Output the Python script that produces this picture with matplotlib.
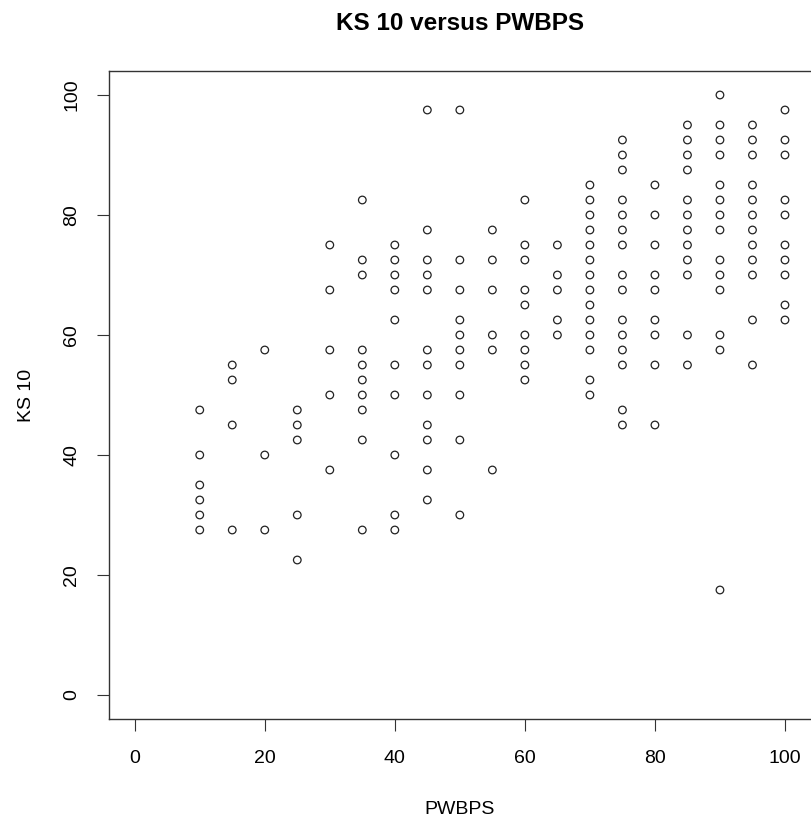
import numpy as np
import matplotlib
matplotlib.use('Agg')
import matplotlib.pyplot as plt

plt.rcParams['font.family'] = ['Liberation Sans', 'DejaVu Sans']

# PWBPS scores (x) and the KS 10 scores seen at each of them (y)
pwbps = [10, 15, 20, 25, 30, 35, 40, 45, 50, 55, 60, 65, 70, 75, 80, 85, 90, 95, 100]
ks10 = [
    [47.5, 40, 35, 32.5, 30, 27.5],
    [55, 52.5, 45, 27.5],
    [57.5, 40, 27.5],
    [47.5, 45, 42.5, 30, 22.5],
    [75, 67.5, 57.5, 50, 37.5],
    [82.5, 72.5, 70, 57.5, 55, 52.5, 50, 47.5, 42.5, 27.5],
    [75, 72.5, 70, 67.5, 62.5, 55, 50, 40, 30, 27.5],
    [97.5, 77.5, 72.5, 70, 67.5, 57.5, 55, 50, 45, 42.5, 37.5, 32.5],
    [97.5, 72.5, 67.5, 62.5, 60, 57.5, 55, 50, 42.5, 30],
    [77.5, 72.5, 67.5, 60, 57.5, 37.5],
    [82.5, 75, 72.5, 67.5, 65, 60, 57.5, 55, 52.5],
    [75, 70, 67.5, 62.5, 60],
    [85, 82.5, 80, 77.5, 75, 72.5, 70, 67.5, 65, 62.5, 60, 57.5, 52.5, 50],
    [92.5, 90, 87.5, 82.5, 80, 77.5, 75, 70, 67.5, 62.5, 60, 57.5, 55, 47.5, 45],
    [85, 80, 75, 70, 67.5, 62.5, 60, 55, 45],
    [95, 92.5, 90, 87.5, 82.5, 80, 77.5, 75, 72.5, 70, 60, 55],
    [100, 95, 92.5, 90, 85, 82.5, 80, 77.5, 72.5, 70, 67.5, 60, 57.5, 17.5],
    [95, 92.5, 90, 85, 82.5, 80, 77.5, 75, 72.5, 70, 62.5, 55],
    [97.5, 92.5, 90, 82.5, 80, 75, 72.5, 70, 65, 62.5],
]
ticks = [0, 20, 40, 60, 80, 100]

x = np.concatenate([[p] * len(v) for p, v in zip(pwbps, ks10)])
y = np.concatenate(ks10)

fig = plt.figure(figsize=(8.11, 8.23), dpi=100)
ax = fig.add_axes([108.7 / 811, 104 / 823, 1 - 108.7 / 811, 648 / 823])

ax.scatter(x, y, s=30, facecolors='none', edgecolors='#222222', linewidths=0.9)

ax.set_xlim(-4, 104)
ax.set_ylim(-4, 104)
ax.set_xticks(ticks)
ax.set_yticks(ticks)
ax.tick_params(direction='out', length=8.6, width=0.8, labelsize=14, color='#333333')
ax.tick_params(axis='x', pad=14)
ax.tick_params(axis='y', pad=12)
for lab in ax.get_yticklabels():
    lab.set_rotation(90)
    lab.set_va('center')

for s in ax.spines.values():
    s.set_linewidth(1.0)
    s.set_color('#333333')
ax.spines['right'].set_visible(False)

ax.set_xlabel('PWBPS', fontsize=14)
ax.xaxis.set_label_coords(0.5, -0.126)
ax.set_ylabel('KS 10', fontsize=14)
ax.yaxis.set_label_coords(-0.105, 0.5)
ax.text(0.5, 1.073, 'KS 10 versus PWBPS', transform=ax.transAxes,
        ha='center', va='center', fontsize=17.5, fontweight='bold')

fig.savefig('out.png', dpi=100)
